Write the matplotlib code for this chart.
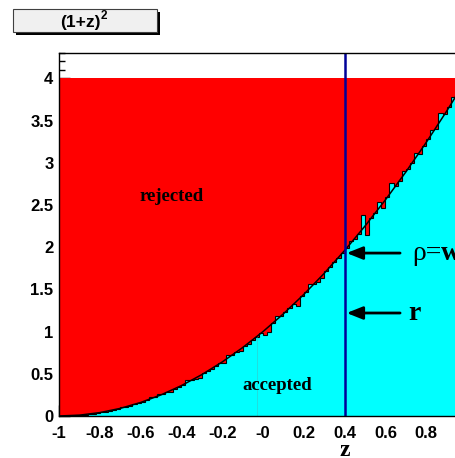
import numpy as np
import matplotlib
matplotlib.use('Agg')
import matplotlib.pyplot as plt
from matplotlib.patches import Rectangle
from matplotlib.ticker import MultipleLocator, FixedLocator, FixedFormatter, FormatStrFormatter

plt.rcParams['font.family'] = ['Liberation Sans', 'DejaVu Sans']

# accepted histogram: 100 bins over z in [-1, 1]
accepted = [
    0.000, 0.001, 0.003, 0.005, 0.008, 0.012, 0.017, 0.022, 0.029, 0.036,
    0.044, 0.053, 0.062, 0.073, 0.084, 0.110, 0.109, 0.120, 0.137, 0.150,
    0.168, 0.184, 0.225, 0.222, 0.262, 0.265, 0.281, 0.290, 0.318, 0.348,
    0.372, 0.425, 0.425, 0.440, 0.455, 0.504, 0.533, 0.562, 0.593, 0.624,
    0.630, 0.720, 0.722, 0.757, 0.775, 0.828, 0.850, 0.902, 0.941, 0.980,
    0.960, 1.000, 1.102, 1.180, 1.188, 1.232, 1.277, 1.322, 1.300, 1.416,
    1.464, 1.560, 1.562, 1.590, 1.640, 1.716, 1.769, 1.822, 1.877, 1.932,
    1.988, 2.070, 2.102, 2.161, 2.380, 2.150, 2.341, 2.402, 2.530, 2.460,
    2.592, 2.760, 2.722, 2.789, 2.900, 2.924, 2.993, 3.120, 3.100, 3.204,
    3.276, 3.385, 3.400, 3.590, 3.580, 3.660, 3.780, 3.802, 3.881, 3.960,
]
rejected_level = 4.0

# smooth (1+z)^2 curve, sampled every 0.1
curve_z = [-1.0, -0.9, -0.8, -0.7, -0.6, -0.5, -0.4, -0.3, -0.2, -0.1, 0.0,
           0.1, 0.2, 0.3, 0.4, 0.5, 0.6, 0.7, 0.8, 0.9, 1.0]
curve_v = [0.00, 0.01, 0.04, 0.09, 0.16, 0.25, 0.36, 0.49, 0.64, 0.81, 1.00,
           1.21, 1.44, 1.69, 1.96, 2.25, 2.56, 2.89, 3.24, 3.61, 4.00]

z_cut = 0.4
arrow_levels = [1.93, 1.22]

xtick_vals = [-1, -0.8, -0.6, -0.4, -0.2, 0, 0.2, 0.4, 0.6, 0.8]
xtick_text = ['-1', '-0.8', '-0.6', '-0.4', '-0.2', '-0', '0.2', '0.4', '0.6', '0.8']

W, H = 455, 458
fig = plt.figure(figsize=(W / 100, H / 100), dpi=100)
ax = fig.add_axes([59 / W, 42 / H, 408 / W, 363 / H])

edges = np.linspace(-1, 1, len(accepted) + 1)
ax.stairs(np.full(len(accepted), rejected_level), edges, fill=True,
          color='#ff0000', lw=0)
ax.stairs(accepted, edges, fill=True, color='#00ffff', lw=0)
ax.stairs(accepted, edges, fill=False, color='black', lw=0.8)
ax.vlines(-0.027, 0, 0.94, color='#2fd0d0', lw=0.5)
ax.plot(curve_z, curve_v, color='black', lw=1.1)

ax.axvline(z_cut, color='#000099', lw=1.8)

for lev in arrow_levels:
    ax.annotate('', xy=(z_cut + 0.01, lev), xytext=(0.672, lev),
                arrowprops=dict(arrowstyle='-|>,head_length=0.8,head_width=0.32',
                                mutation_scale=12, lw=2, color='black',
                                shrinkA=0, shrinkB=0))

serif = ['Liberation Serif', 'DejaVu Serif']
ax.text(0.73, arrow_levels[0], '\u03c1=', family=serif, fontsize=20,
        va='center', ha='left')
ax.text(0.872, arrow_levels[0], 'w', family=serif, fontsize=20,
        fontweight='bold', va='center', ha='left')
ax.text(0.71, arrow_levels[1], 'r', family=serif, fontsize=20,
        fontweight='bold', va='center', ha='left')

ax.text(-0.446, 2.60, 'rejected', family=serif, fontsize=13.5,
        fontweight='bold', ha='center', va='center')
ax.text(0.07, 0.36, 'accepted', family=serif, fontsize=13.5,
        fontweight='bold', ha='center', va='center')

ax.set_xlim(-1, 1)
ax.set_ylim(0, 4.3)
ax.set_axisbelow(True)
ax.xaxis.set_major_locator(FixedLocator(xtick_vals))
ax.xaxis.set_major_formatter(FixedFormatter(xtick_text))
ax.xaxis.set_minor_locator(MultipleLocator(0.04))
ax.yaxis.set_major_locator(MultipleLocator(0.5))
ax.yaxis.set_major_formatter(FormatStrFormatter('%g'))
ax.yaxis.set_minor_locator(MultipleLocator(0.1))
ax.tick_params(which='both', direction='in', labelsize=12, width=1)
ax.tick_params(which='major', length=8)
ax.tick_params(which='minor', length=4)
ax.tick_params(axis='x', pad=7)
ax.tick_params(axis='y', pad=4)
for lab in ax.get_xticklabels() + ax.get_yticklabels():
    lab.set_fontweight('bold')
for s in ax.spines.values():
    s.set_linewidth(1)

fig.text(345 / W, 2 / H, 'z', family=serif, fontsize=17, fontweight='bold',
         ha='center', va='baseline')

# title box with shadow
fig.patches.append(Rectangle((16 / W, (H - 35) / H), 144 / W, 23 / H,
                             transform=fig.transFigure, facecolor='black', lw=0))
fig.patches.append(Rectangle((13 / W, (H - 32) / H), 144 / W, 23 / H,
                             transform=fig.transFigure, facecolor='#f0f0f0',
                             edgecolor='#404040', lw=0.8))
fig.text(80 / W, (H - 22) / H, '(1+z)', fontsize=12.5, fontweight='bold',
         ha='center', va='center')
fig.text(101 / W, (H - 16) / H, '2', fontsize=8.5, fontweight='bold',
         ha='left', va='center')

fig.savefig('out.png', dpi=100)
